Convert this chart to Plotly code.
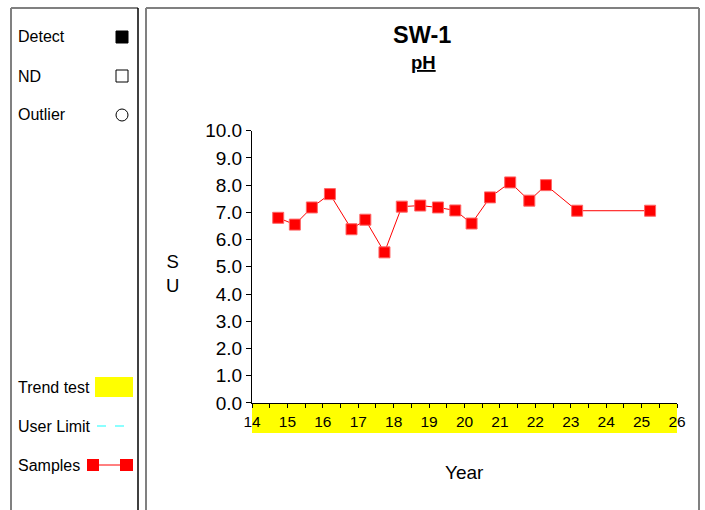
import plotly.graph_objects as go

W, H = 705, 510

# Data
years = [14.74, 15.21, 15.69, 16.20, 16.81, 17.20, 17.74, 18.23, 18.75, 19.25,
         19.74, 20.20, 20.72, 21.29, 21.83, 22.30, 23.18, 25.24]
ph_values = [6.80, 6.55, 7.18, 7.67, 6.38, 6.73, 5.53, 7.21, 7.25, 7.18,
             7.07, 6.59, 7.55, 8.10, 7.43, 8.00, 7.06, 7.06]
x_ticks = list(range(14, 27))
y_ticks = [float(v) for v in range(0, 11)]

legend_labels = ["Detect", "ND", "Outlier"]
legend_labels_bottom = ["Trend test", "User Limit", "Samples"]


def px(x):
    return x / W


def py(y):
    return 1 - y / H


fig = go.Figure()
fig.add_trace(go.Scatter(
    x=years, y=ph_values, mode="lines+markers",
    line=dict(color="#ff0000", width=1),
    marker=dict(symbol="square", size=11, color="#ff0000",
                line=dict(color="#ff6666", width=1)),
    showlegend=False, hoverinfo="x+y"))

shapes = []
gray = "#808080"
# left panel box
shapes += [
    dict(type="line", xref="paper", yref="paper", x0=px(11), x1=px(138), y0=py(8), y1=py(8), line=dict(color=gray, width=2)),
    dict(type="line", xref="paper", yref="paper", x0=px(11), x1=px(11), y0=py(8), y1=py(520), line=dict(color=gray, width=2)),
    dict(type="line", xref="paper", yref="paper", x0=px(138), x1=px(138), y0=py(8), y1=py(520), line=dict(color="#000000", width=1.5)),
]
# right panel box
shapes += [
    dict(type="line", xref="paper", yref="paper", x0=px(146), x1=px(699), y0=py(8), y1=py(8), line=dict(color=gray, width=2)),
    dict(type="line", xref="paper", yref="paper", x0=px(146), x1=px(146), y0=py(8), y1=py(520), line=dict(color=gray, width=2)),
    dict(type="line", xref="paper", yref="paper", x0=px(699), x1=px(699), y0=py(8), y1=py(520), line=dict(color=gray, width=2)),
]
# trend test band under x axis
shapes.append(dict(type="rect", xref="x", yref="paper", x0=14, x1=26, y0=py(433), y1=py(403),
                   fillcolor="#ffff00", line=dict(width=0), layer="below"))
# legend symbols
shapes += [
    dict(type="rect", xref="paper", yref="paper", x0=px(116), x1=px(128), y0=py(43), y1=py(31), fillcolor="#000000", line=dict(color="#000000", width=1)),
    dict(type="rect", xref="paper", yref="paper", x0=px(116), x1=px(128), y0=py(82), y1=py(70), fillcolor="white", line=dict(color="#000000", width=1)),
    dict(type="circle", xref="paper", yref="paper", x0=px(116), x1=px(128), y0=py(121), y1=py(109), fillcolor="white", line=dict(color="#000000", width=1)),
    dict(type="rect", xref="paper", yref="paper", x0=px(95), x1=px(133), y0=py(397), y1=py(377), fillcolor="#ffff00", line=dict(width=0)),
    dict(type="line", xref="paper", yref="paper", x0=px(97), x1=px(133), y0=py(426), y1=py(426), line=dict(color="#66ffff", width=1.5, dash="dash")),
    dict(type="line", xref="paper", yref="paper", x0=px(93), x1=px(127), y0=py(465), y1=py(465), line=dict(color="#ff0000", width=1)),
    dict(type="rect", xref="paper", yref="paper", x0=px(87), x1=px(99), y0=py(471), y1=py(459), fillcolor="#ff0000", line=dict(width=0)),
    dict(type="rect", xref="paper", yref="paper", x0=px(120), x1=px(133), y0=py(471), y1=py(459), fillcolor="#ff0000", line=dict(width=0)),
]

annotations = []
for lab, y in zip(legend_labels, [37, 76, 115]):
    annotations.append(dict(text=lab, xref="paper", yref="paper", x=px(15.5), y=py(y), xanchor="left", yanchor="middle",
                            showarrow=False, font=dict(size=16, color="#000")))
for lab, y in zip(legend_labels_bottom, [387, 426, 465]):
    annotations.append(dict(text=lab, xref="paper", yref="paper", x=px(15.5), y=py(y), xanchor="left", yanchor="middle",
                            showarrow=False, font=dict(size=16, color="#000")))
annotations += [
    dict(text="<b>SW-1</b>", xref="paper", yref="paper", x=px(422), y=py(35), xanchor="center", yanchor="middle",
         showarrow=False, font=dict(size=23.5, color="#000")),
    dict(text="<b><u>pH</u></b>", xref="paper", yref="paper", x=px(423), y=py(62), xanchor="center", yanchor="middle",
         showarrow=False, font=dict(size=18.5, color="#000")),
    dict(text="S<br>U", xref="paper", yref="paper", x=px(172), y=py(273), xanchor="center", yanchor="middle",
         showarrow=False, font=dict(size=18.5, color="#000")),
    dict(text="Year", xref="paper", yref="paper", x=px(465), y=py(472), xanchor="center", yanchor="middle",
         showarrow=False, font=dict(size=19, color="#000")),
]

fig.update_layout(
    template="none",
    width=W, height=H, margin=dict(l=0, r=0, t=0, b=0, pad=0, autoexpand=False),
    paper_bgcolor="white", plot_bgcolor="white",
    font=dict(family="Arial, Liberation Sans, sans-serif", color="#000"),
    shapes=shapes, annotations=annotations, showlegend=False,
    xaxis=dict(domain=[px(252), px(677)], range=[14, 26], tickvals=x_ticks, ticktext=[str(v) for v in x_ticks],
               automargin=False,
               showline=True, linecolor="#000", linewidth=1, ticks="outside", ticklen=4, tickcolor="#000",
               minor=dict(dtick=0.5, tick0=14, ticks="outside", ticklen=4, tickcolor="#000", showgrid=False),
               showgrid=False, zeroline=False, tickfont=dict(size=15.5), fixedrange=True),
    yaxis=dict(domain=[py(402.9), py(130.7)], range=[0, 10], tickvals=y_ticks, tickformat=".1f",
               automargin=False,
               showline=True, linecolor="#000", linewidth=1, ticks="outside", ticklen=5, tickcolor="#000",
               showgrid=False, zeroline=False, tickfont=dict(size=19), fixedrange=True),
)

fig.write_html("out.html", config={"displayModeBar": False},
               post_script="document.body.style.margin='0';document.body.style.overflow='hidden';")
